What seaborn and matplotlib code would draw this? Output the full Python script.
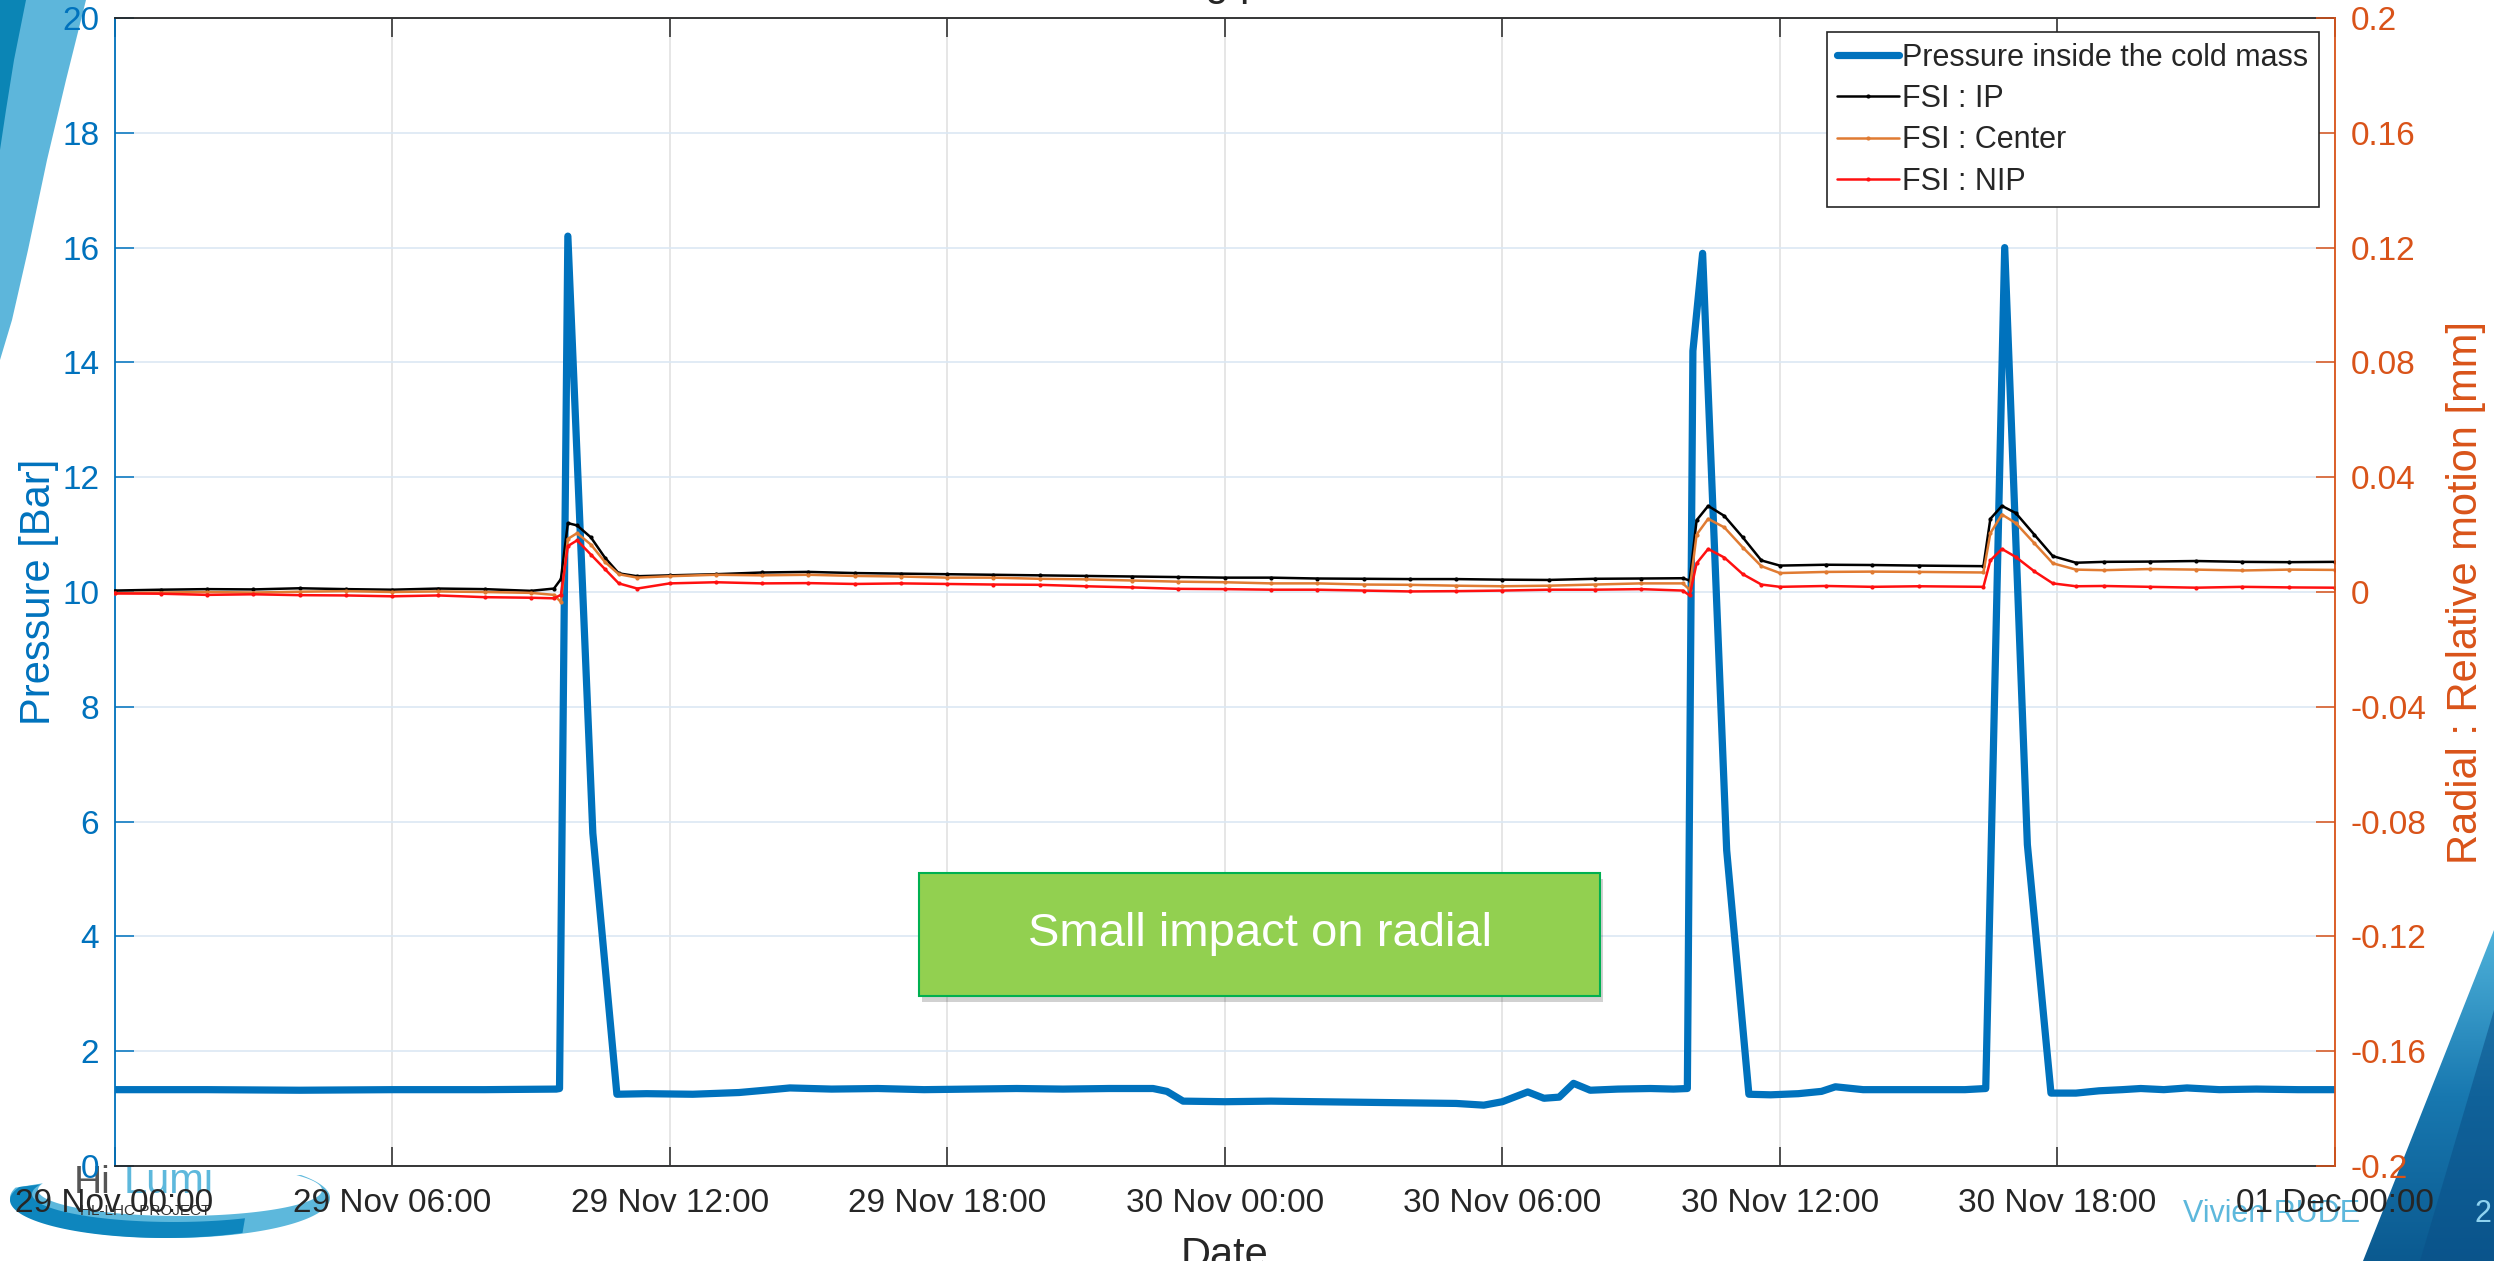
import numpy as np
import pandas as pd
import matplotlib
matplotlib.use("Agg")
import matplotlib.pyplot as plt
import matplotlib.dates as mdates
from matplotlib.patches import Rectangle, Polygon
import seaborn as sns

# ---------------------------------------------------------------------------
# Data: hours since 29 Nov 00:00
# ---------------------------------------------------------------------------
pressure_hours = [0, 2, 4, 6, 8, 9.55, 9.62, 9.8, 10.34, 10.86, 11.5, 12.5, 13.5,
                  14.2, 14.6, 15.5, 16.5, 17.5, 18.5, 19.5, 20.5, 21.5, 22.45, 22.75,
                  23.1, 24, 25, 26, 27, 28, 29, 29.6, 30.0, 30.55, 30.9, 31.23, 31.54,
                  31.9, 32.5, 33.2, 33.7, 34.0, 34.12, 34.33, 34.85, 35.33, 35.8, 36.4,
                  36.9, 37.2, 37.8, 38.5, 39.3, 40.0, 40.45, 40.86, 41.35, 41.86, 42.4,
                  42.9, 43.4, 43.8, 44.3, 44.8, 45.5, 46.3, 47.2, 48]
pressure_bar = [1.33, 1.33, 1.32, 1.33, 1.33, 1.34, 1.35, 16.2, 5.8, 1.25, 1.26, 1.25, 1.28,
                1.33, 1.36, 1.34, 1.35, 1.33, 1.34, 1.35, 1.34, 1.35, 1.35, 1.30,
                1.13, 1.12, 1.13, 1.12, 1.11, 1.10, 1.09, 1.06, 1.12, 1.29, 1.18, 1.20, 1.44,
                1.32, 1.34, 1.35, 1.34, 1.35, 14.2, 15.9, 5.5, 1.25, 1.24, 1.26,
                1.30, 1.38, 1.33, 1.33, 1.33, 1.33, 1.35, 16.0, 5.6, 1.27, 1.27,
                1.31, 1.33, 1.35, 1.33, 1.36, 1.33, 1.34, 1.33, 1.33]

fsi_hours = [0, 1, 2, 3, 4, 5, 6, 7, 8, 9,
             9.5, 9.65, 9.8, 10.0, 10.3, 10.6, 10.9, 11.3,
             12, 13, 14, 15, 16, 17, 18, 19, 20, 21, 22, 23, 24, 25, 26, 27, 28, 29, 30, 31, 32, 33,
             33.9, 34.05, 34.2, 34.45, 34.8, 35.2, 35.6, 36,
             37, 38, 39,
             40.4, 40.55, 40.8, 41.1, 41.5, 41.9, 42.4,
             43, 44, 45, 46, 47, 48]
fsi_ip_mm = [0.0005, 0.0008, 0.0010, 0.0009, 0.0013, 0.0010, 0.0008, 0.0012, 0.0010, 0.0004,
             0.0012, 0.0045, 0.0240, 0.0232, 0.0190, 0.0120, 0.0065, 0.0055,
             0.0058, 0.0062, 0.0068, 0.0070, 0.0066, 0.0064, 0.0062, 0.0060, 0.0058, 0.0056,
             0.0054, 0.0052, 0.0050, 0.0050, 0.0047, 0.0046, 0.0045, 0.0045, 0.0043, 0.0042,
             0.0046, 0.0047,
             0.0048, 0.0040, 0.0250, 0.0300, 0.0265, 0.0190, 0.0110, 0.0092,
             0.0095, 0.0094, 0.0092,
             0.0090, 0.0255, 0.0300, 0.0275, 0.0200, 0.0125, 0.0102,
             0.0105, 0.0106, 0.0108, 0.0105, 0.0104, 0.0105]
fsi_center_mm = [-0.0004, -0.0002, 0.0000, -0.0002, 0.0001, 0.0003, 0.0000, 0.0002, 0.0000, -0.0003,
                 -0.0010, -0.0035, 0.0185, 0.0205, 0.0165, 0.0105, 0.0062, 0.0050,
                 0.0055, 0.0060, 0.0058, 0.0060, 0.0056, 0.0054, 0.0050, 0.0050, 0.0046, 0.0044,
                 0.0040, 0.0036, 0.0034, 0.0030, 0.0030, 0.0026, 0.0025, 0.0022, 0.0020, 0.0022,
                 0.0026, 0.0030,
                 0.0030, 0.0008, 0.0200, 0.0255, 0.0225, 0.0155, 0.0090, 0.0066,
                 0.0070, 0.0071, 0.0070,
                 0.0068, 0.0205, 0.0270, 0.0240, 0.0170, 0.0100, 0.0078,
                 0.0076, 0.0080, 0.0078, 0.0075, 0.0078, 0.0077]
fsi_nip_mm = [-0.0005, -0.0006, -0.0010, -0.0008, -0.0011, -0.0012, -0.0015, -0.0012, -0.0018, -0.0020,
              -0.0022, -0.0010, 0.0160, 0.0180, 0.0130, 0.0080, 0.0030, 0.0012,
              0.0030, 0.0034, 0.0030, 0.0031, 0.0028, 0.0030, 0.0028, 0.0026, 0.0025, 0.0020,
              0.0016, 0.0011, 0.0010, 0.0008, 0.0008, 0.0005, 0.0002, 0.0003, 0.0005, 0.0008,
              0.0008, 0.0010,
              0.0005, -0.0012, 0.0100, 0.0150, 0.0120, 0.0062, 0.0026, 0.0018,
              0.0021, 0.0018, 0.0020,
              0.0018, 0.0110, 0.0150, 0.0122, 0.0072, 0.0030, 0.0020,
              0.0021, 0.0018, 0.0015, 0.0018, 0.0016, 0.0015]

series_labels = ["Pressure inside the cold mass", "FSI : IP", "FSI : Center", "FSI : NIP"]
pressure_ticks = [0, 2, 4, 6, 8, 10, 12, 14, 16, 18, 20]
motion_ticks = [-0.2, -0.16, -0.12, -0.08, -0.04, 0, 0.04, 0.08, 0.12, 0.16, 0.2]
motion_tick_labels = ["-0.2", "-0.16", "-0.12", "-0.08", "-0.04", "0",
                      "0.04", "0.08", "0.12", "0.16", "0.2"]

START = pd.Timestamp("2016-11-29 00:00")


def to_time(hours):
    return START + pd.to_timedelta(np.asarray(hours, dtype=float), unit="h")


# ---------------------------------------------------------------------------
# Style
# ---------------------------------------------------------------------------
sns.set_style("white")
plt.rcParams['font.family'] = ['Liberation Sans', 'DejaVu Sans']

BLUE = "#0072BD"
ORANGE = "#D95319"
DARK = "#262626"
W, H = 2494, 1261

fig = plt.figure(figsize=(W / 100, H / 100), dpi=100)
fig.patch.set_facecolor("white")

# slide decorations drawn behind the chart (pixel coordinates, y downwards)
deco = fig.add_axes([0, 0, 1, 1], zorder=-1)
deco.set_xlim(0, W)
deco.set_ylim(H, 0)
deco.axis("off")

deco.add_patch(Polygon([(0, 0), (86, 0), (66, 80), (47, 160), (28, 250), (12, 320), (0, 360)],
                       closed=True, color="#5DB6DB", lw=0))
deco.add_patch(Polygon([(0, 0), (26, 0), (14, 60), (6, 110), (0, 150)],
                       closed=True, color="#0B85B5", lw=0))

# bottom-right band with a vertical gradient
band = Polygon([(2494, 930), (2494, 1261), (2363, 1261)], closed=True,
               facecolor="none", lw=0)
deco.add_patch(band)
grad = np.linspace(0, 1, 256).reshape(-1, 1)
img = deco.imshow(grad, cmap=matplotlib.colors.LinearSegmentedColormap.from_list(
    "band", ["#4FB2DA", "#1878B0", "#0B5A90"]), extent=(2340, 2494, 1261, 930),
    aspect="auto", zorder=1)
img.set_clip_path(band)
deco.add_patch(Polygon([(2494, 1010), (2494, 1261), (2420, 1261)], closed=True,
                       color="#0A5088", alpha=0.55, lw=0, zorder=2))
deco.set_xlim(0, W)
deco.set_ylim(H, 0)

# HiLumi logo swoosh
t = np.radians(np.linspace(195, -35, 120))
outer = np.column_stack([170 + 160 * np.cos(t), 1198 + 40 * np.sin(t)])
inner = np.column_stack([180 + 142 * np.cos(t[::-1]), 1190 + 26 * np.sin(t[::-1])])
deco.add_patch(Polygon(np.vstack([outer, inner]), closed=True, color="#5DB8DC", lw=0))
t2 = np.radians(np.linspace(200, 60, 80))
outer2 = np.column_stack([165 + 155 * np.cos(t2), 1200 + 38 * np.sin(t2)])
inner2 = np.column_stack([174 + 142 * np.cos(t2[::-1]), 1194 + 28 * np.sin(t2[::-1])])
deco.add_patch(Polygon(np.vstack([outer2, inner2]), closed=True, color="#0E86BE", lw=0))
deco.text(74, 1193, "Hi", fontsize=28, color="#555555", va="baseline", ha="left")
deco.text(124, 1193, "Lumi", fontsize=30, color="#5DB8DC", va="baseline", ha="left")
deco.text(80, 1215, "HL-LHC PROJECT", fontsize=11, color="#333333", va="baseline", ha="left")
deco.text(2183, 1222, "Vivien RUDE", fontsize=22, color="#5DB8DC", va="baseline", ha="left")
deco.text(2474, 1222, "2", fontsize=22, color="#8FD3F0", va="baseline", ha="left")

# ---------------------------------------------------------------------------
# Chart
# ---------------------------------------------------------------------------
ax = fig.add_axes([114.5 / W, (H - 1166) / H, 2220.5 / W, 1148 / H])
ax2 = ax.twinx()
ax.set_facecolor("white")

sns.lineplot(x=to_time(pressure_hours), y=pressure_bar, ax=ax, color=BLUE, lw=5.2,
             label=series_labels[0], legend=False, sort=False)

fsi_styles = [(fsi_ip_mm, "#000000", series_labels[1]),
              (fsi_center_mm, "#E07B32", series_labels[2]),
              (fsi_nip_mm, "#FF1010", series_labels[3])]
for values, col, lab in fsi_styles:
    sns.lineplot(x=to_time(fsi_hours), y=values, ax=ax2, color=col, lw=1.8,
                 marker=".", markersize=6, markeredgewidth=0, label=lab,
                 legend=False, sort=False)

# axes limits and ticks
ax.set_xlim(to_time([0])[0], to_time([48])[0])
ax.set_ylim(0, 20)
ax2.set_ylim(-0.2, 0.2)
ax.xaxis.set_major_locator(mdates.HourLocator(byhour=[0, 6, 12, 18]))
ax.xaxis.set_major_formatter(mdates.DateFormatter("%d %b %H:%M"))
ax.set_yticks(pressure_ticks)
ax.set_yticklabels([str(v) for v in pressure_ticks])
ax2.set_yticks(motion_ticks)
ax2.set_yticklabels(motion_tick_labels)

ax.tick_params(axis="x", which="both", top=True, bottom=True, direction="in",
               length=14, width=1.1, color=DARK, labelcolor=DARK, labelsize=24, pad=16)
ax.tick_params(axis="y", direction="in", length=14, width=1.1, color=BLUE,
               labelcolor=BLUE, labelsize=24, pad=11, right=False)
ax2.tick_params(axis="y", direction="in", length=14, width=1.1, color=ORANGE,
                labelcolor=ORANGE, labelsize=24, pad=11)

# grid
ax.grid(axis="x", color="#e2e2e2", lw=1.2)
ax.grid(axis="y", color="#dbe8f4", lw=1.2)
ax.set_axisbelow(True)
ax2.grid(False)

# spines
for name in ("top", "bottom"):
    ax.spines[name].set_color(DARK)
    ax.spines[name].set_linewidth(1.3)
ax.spines["left"].set_color(BLUE)
ax.spines["left"].set_linewidth(1.3)
ax.spines["right"].set_visible(False)
for name in ("top", "bottom", "left"):
    ax2.spines[name].set_visible(False)
ax2.spines["right"].set_color(ORANGE)
ax2.spines["right"].set_linewidth(1.3)

ax.set_ylabel("Pressure [Bar]", color=BLUE, fontsize=30, labelpad=2)
ax2.set_ylabel("Radial : Relative motion [mm]", color=ORANGE, fontsize=30, labelpad=14)
ax.set_xlabel("Date", color=DARK, fontsize=30, labelpad=12)
fig.text(0.4912, 1.004, "Testing phase", ha="center", va="baseline",
         fontsize=30, color=DARK)

# legend combining both y axes
h1, l1 = ax.get_legend_handles_labels()
h2, l2 = ax2.get_legend_handles_labels()
leg = ax2.legend(h1 + h2, l1 + l2, loc="upper right",
                 bbox_to_anchor=(1 - 16 / 2220.5, 1 - 14 / 1148), borderaxespad=0,
                 fontsize=22, frameon=True, fancybox=False, framealpha=1,
                 edgecolor=DARK, handlelength=2.0, handletextpad=0.12,
                 labelspacing=0.37, borderpad=0.35)
leg.get_frame().set_linewidth(1.2)
for txt in leg.get_texts():
    txt.set_color(DARK)

# annotation box
bx0, bx1 = (919 - 114.5) / 2220.5, (1600 - 114.5) / 2220.5
by0, by1 = (1166 - 996) / 1148, (1166 - 873) / 1148
ax2.add_patch(Rectangle((bx0 + 0.0015, by0 - 0.005), bx1 - bx0, by1 - by0,
                        transform=ax2.transAxes, facecolor="#000000", alpha=0.18,
                        lw=0, zorder=9, clip_on=False))
ax2.add_patch(Rectangle((bx0, by0), bx1 - bx0, by1 - by0, transform=ax2.transAxes,
                        facecolor="#92D050", edgecolor="#00B050", lw=1.5,
                        zorder=10, clip_on=False))
ax2.text((bx0 + bx1) / 2, (by0 + by1) / 2, "Small impact on radial",
         transform=ax2.transAxes, ha="center", va="center", fontsize=34,
         color="white", zorder=11)

fig.savefig("out.png", dpi=100, facecolor="white")
